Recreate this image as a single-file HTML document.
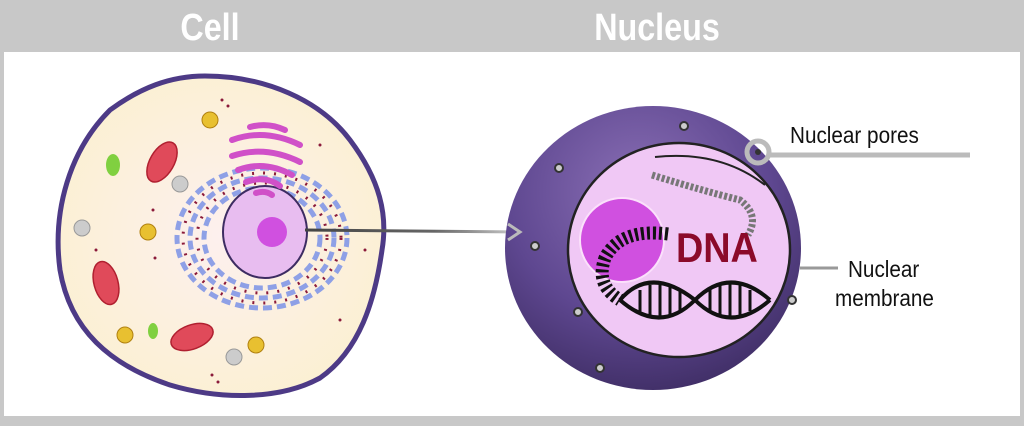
<!DOCTYPE html>
<html><head><meta charset="utf-8"><style>
body{margin:0;width:1024px;height:421px;overflow:hidden;background:#c8c8c8;font-family:"Liberation Sans",sans-serif}
</style></head><body>
<svg width="1024" height="421" viewBox="0 0 1024 421" xmlns="http://www.w3.org/2000/svg">
<defs>
<radialGradient id="sph" cx="0.45" cy="0.3" r="0.75">
<stop offset="0" stop-color="#8a6fb5"/><stop offset="0.6" stop-color="#5e4790"/><stop offset="1" stop-color="#3d2c62"/></radialGradient>
<radialGradient id="cyt" cx="0.5" cy="0.5" r="0.6"><stop offset="0" stop-color="#fdf0ee"/><stop offset="1" stop-color="#fbf0d0"/></radialGradient>
<linearGradient id="arr" x1="0" x2="1"><stop offset="0" stop-color="#444"/><stop offset="0.6" stop-color="#666"/><stop offset="1" stop-color="#ccc"/></linearGradient>
</defs>
<rect x="0" y="0" width="1024" height="421" fill="#c8c8c8"/>
<rect x="4" y="52" width="1016" height="364" fill="#fff"/>
<text x="210" y="40" font-size="38" font-weight="bold" fill="#fff" text-anchor="middle" transform="translate(210 0) scale(0.85 1) translate(-210 0)">Cell</text>
<text x="657" y="40" font-size="38" font-weight="bold" fill="#fff" text-anchor="middle" transform="translate(657 0) scale(0.85 1) translate(-657 0)">Nucleus</text>
<!-- cell -->
<path d="M205,76 C265,76 320,100 350,140 C380,180 388,215 382,250 C375,300 360,350 320,378 C280,400 220,400 170,385 C110,365 70,330 60,270 C52,210 70,150 110,110 C140,88 170,76 205,76 Z" fill="url(#cyt)" stroke="#4d3a86" stroke-width="5"/>
<g fill="none" stroke="#8ea0e6" stroke-width="5" stroke-dasharray="9 5">
<ellipse cx="262" cy="238" rx="85" ry="70"/>
<ellipse cx="262" cy="238" rx="72" ry="60"/>
<ellipse cx="262" cy="238" rx="58" ry="50"/></g>
<g fill="none" stroke="#8b1a3a" stroke-width="3" stroke-dasharray="2 9">
<ellipse cx="262" cy="238" rx="79" ry="65"/><ellipse cx="262" cy="238" rx="65" ry="55"/></g>
<ellipse cx="265" cy="232" rx="42" ry="46" fill="#e8bdf0" stroke="#3d2c62" stroke-width="2"/>
<circle cx="272" cy="232" r="15" fill="#d050e0"/>
<g stroke="#d050c8" stroke-width="6" fill="none" stroke-linecap="round">
<path d="M250,127 Q268,122 285,130"/><path d="M232,140 Q265,128 300,145"/><path d="M232,156 Q265,145 300,162"/><path d="M238,170 Q265,160 292,175"/><path d="M246,182 Q265,175 280,186"/><path d="M256,193 Q265,190 272,195"/></g>
<g fill="#e04a5a" stroke="#b02030" stroke-width="1.5">
<ellipse cx="162" cy="162" rx="12" ry="22" transform="rotate(30 162 162)"/>
<ellipse cx="106" cy="283" rx="12" ry="22" transform="rotate(-15 106 283)"/>
<ellipse cx="192" cy="337" rx="12" ry="22" transform="rotate(70 192 337)"/></g>
<g fill="#e8c030" stroke="#b08010"><circle cx="210" cy="120" r="8"/><circle cx="148" cy="232" r="8"/><circle cx="125" cy="335" r="8"/><circle cx="256" cy="345" r="8"/></g>
<g fill="#ccc" stroke="#999"><circle cx="180" cy="184" r="8"/><circle cx="82" cy="228" r="8"/><circle cx="234" cy="357" r="8"/></g>
<ellipse cx="113" cy="165" rx="7" ry="11" fill="#80d040"/><ellipse cx="153" cy="331" rx="5" ry="8" fill="#80d040"/>
<g fill="#8b1a3a"><circle cx="222" cy="100" r="1.5"/><circle cx="228" cy="106" r="1.5"/><circle cx="320" cy="145" r="1.5"/><circle cx="153" cy="210" r="1.5"/><circle cx="155" cy="258" r="1.5"/><circle cx="96" cy="250" r="1.5"/><circle cx="212" cy="375" r="1.5"/><circle cx="218" cy="382" r="1.5"/><circle cx="340" cy="320" r="1.5"/><circle cx="365" cy="250" r="1.5"/></g>
<!-- arrow -->
<line x1="305" y1="230" x2="520" y2="232" stroke="url(#arr)" stroke-width="3"/>
<!-- nucleus sphere -->
<ellipse cx="653" cy="248" rx="148" ry="142" fill="url(#sph)"/>
<path d="M508,224 L520,232 L508,240" fill="none" stroke="#bbb" stroke-width="3"/>
<ellipse cx="679" cy="250" rx="111" ry="107" fill="#f0c8f5" stroke="#222" stroke-width="2.5"/>
<path d="M655,157 Q720,150 765,185" fill="none" stroke="#222" stroke-width="2"/>
<circle cx="622" cy="240" r="42" fill="#d050e0" stroke="#fbe0fb" stroke-width="2"/>
<path d="M652,175 Q700,190 740,200 Q760,215 748,235" fill="none" stroke="#777" stroke-width="7" stroke-dasharray="3 2"/>
<path d="M668,234 Q620,228 605,258 Q595,285 620,300" fill="none" stroke="#111" stroke-width="13" stroke-dasharray="3 3"/>
<path d="M620,300 Q650,265 695,300 Q730,335 770,300" fill="none" stroke="#111" stroke-width="4"/>
<path d="M620,300 Q660,335 695,300 Q730,265 770,300" fill="none" stroke="#111" stroke-width="4"/>
<g stroke="#111" stroke-width="3">
<line x1="640" y1="290" x2="640" y2="312"/><line x1="650" y1="285" x2="650" y2="316"/><line x1="660" y1="284" x2="660" y2="317"/><line x1="670" y1="285" x2="670" y2="316"/><line x1="680" y1="289" x2="680" y2="311"/>
<line x1="710" y1="289" x2="710" y2="311"/><line x1="720" y1="285" x2="720" y2="316"/><line x1="730" y1="284" x2="730" y2="317"/><line x1="740" y1="285" x2="740" y2="316"/><line x1="750" y1="290" x2="750" y2="311"/></g>
<text x="676" y="262" font-size="42" font-weight="bold" fill="#8b0a2a" transform="translate(676 0) scale(0.9 1) translate(-676 0)">DNA</text>
<g fill="#ccc" stroke="#333" stroke-width="2">
<circle cx="684" cy="126" r="4"/><circle cx="559" cy="168" r="4"/><circle cx="535" cy="246" r="4"/><circle cx="578" cy="312" r="4"/><circle cx="600" cy="368" r="4"/><circle cx="792" cy="300" r="4"/></g>
<circle cx="758" cy="152" r="11" fill="none" stroke="#bbb" stroke-width="5"/>
<circle cx="758" cy="152" r="3" fill="#333"/>
<line x1="769" y1="155" x2="970" y2="155" stroke="#bbb" stroke-width="5"/>
<text x="790" y="143" font-size="23" fill="#111" transform="translate(790 0) scale(0.9 1) translate(-790 0)">Nuclear pores</text>
<line x1="800" y1="268" x2="838" y2="268" stroke="#999" stroke-width="3"/>
<text x="848" y="277" font-size="23" fill="#111" transform="translate(848 0) scale(0.9 1) translate(-848 0)">Nuclear</text>
<text x="835" y="306" font-size="23" fill="#111" transform="translate(835 0) scale(0.9 1) translate(-835 0)">membrane</text>
</svg>
</body></html>
